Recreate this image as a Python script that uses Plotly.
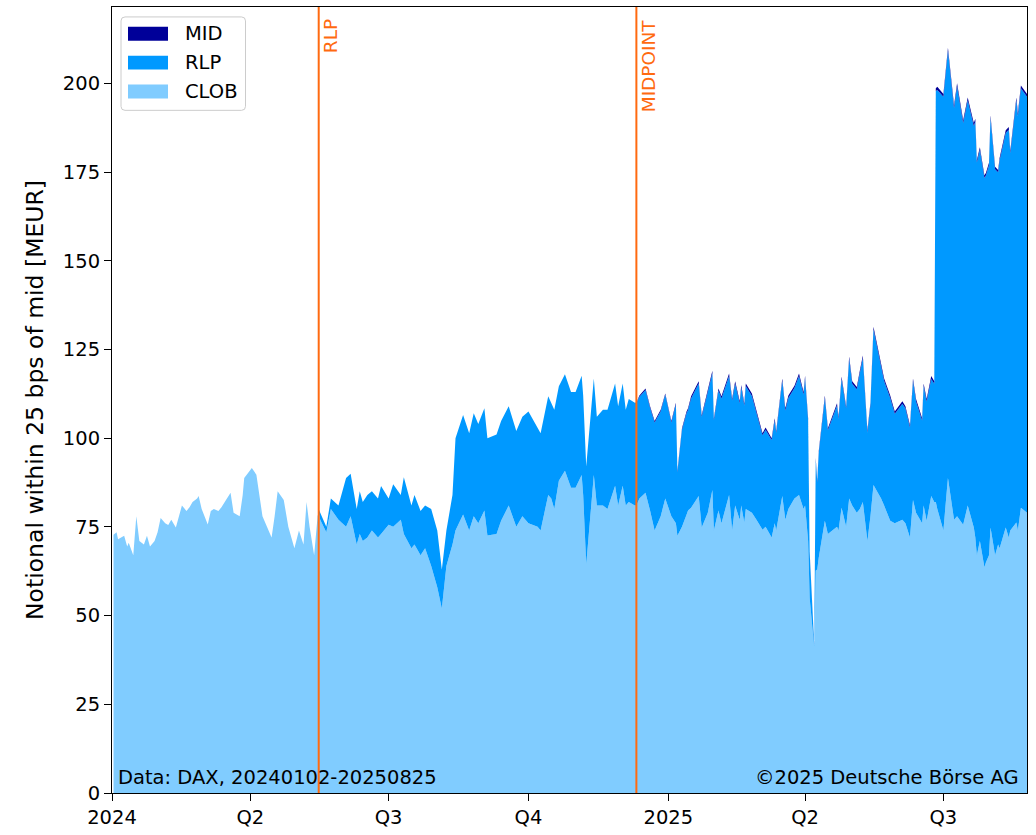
import plotly.graph_objects as go

# Trading days sampled across the period (ISO dates)
dates = [
    "2024-01-02", "2024-01-04", "2024-01-05", "2024-01-09", "2024-01-11", "2024-01-12", "2024-01-15",
    "2024-01-17", "2024-01-19", "2024-01-22", "2024-01-24", "2024-01-26", "2024-01-29", "2024-01-31",
    "2024-02-02", "2024-02-05", "2024-02-07", "2024-02-09", "2024-02-12", "2024-02-14", "2024-02-16",
    "2024-02-19", "2024-02-21", "2024-02-23", "2024-02-26", "2024-02-27", "2024-02-29",
    "2024-03-04", "2024-03-06", "2024-03-08", "2024-03-11", "2024-03-13", "2024-03-15", "2024-03-19",
    "2024-03-21", "2024-03-25", "2024-03-27", "2024-03-28",
    "2024-04-02", "2024-04-05", "2024-04-09", "2024-04-11", "2024-04-15", "2024-04-17", "2024-04-19",
    "2024-04-23", "2024-04-26", "2024-04-30",
    "2024-05-03", "2024-05-06", "2024-05-08", "2024-05-10", "2024-05-13", "2024-05-15",
    "2024-05-16", "2024-05-17", "2024-05-21", "2024-05-24", "2024-05-29",
    "2024-06-03", "2024-06-06", "2024-06-10", "2024-06-12", "2024-06-14", "2024-06-17", "2024-06-20",
    "2024-06-24", "2024-06-26",
    "2024-07-01", "2024-07-04", "2024-07-09", "2024-07-11", "2024-07-16", "2024-07-18", "2024-07-22",
    "2024-07-25", "2024-07-29",
    "2024-08-02", "2024-08-05", "2024-08-08", "2024-08-12", "2024-08-14", "2024-08-19", "2024-08-23",
    "2024-08-26", "2024-08-29",
    "2024-09-02", "2024-09-04", "2024-09-10", "2024-09-13", "2024-09-18", "2024-09-23", "2024-09-27",
    "2024-10-01", "2024-10-07", "2024-10-09", "2024-10-14", "2024-10-16", "2024-10-18", "2024-10-21",
    "2024-10-25", "2024-10-29",
    "2024-11-01", "2024-11-05", "2024-11-06", "2024-11-08", "2024-11-11", "2024-11-13", "2024-11-15",
    "2024-11-19", "2024-11-22", "2024-11-27", "2024-11-29",
    "2024-12-02", "2024-12-04", "2024-12-06", "2024-12-10", "2024-12-11", "2024-12-13", "2024-12-17",
    "2024-12-20", "2024-12-23", "2024-12-27", "2024-12-30",
    "2025-01-03", "2025-01-06", "2025-01-07", "2025-01-10", "2025-01-13", "2025-01-14", "2025-01-16",
    "2025-01-21", "2025-01-23", "2025-01-27", "2025-01-30", "2025-01-31",
    "2025-02-03", "2025-02-05", "2025-02-10", "2025-02-12", "2025-02-14", "2025-02-17", "2025-02-18",
    "2025-02-20", "2025-02-21", "2025-02-25", "2025-02-28",
    "2025-03-04", "2025-03-06", "2025-03-10", "2025-03-12", "2025-03-13", "2025-03-17", "2025-03-19",
    "2025-03-21", "2025-03-25", "2025-03-28", "2025-03-31",
    "2025-04-01", "2025-04-03", "2025-04-04", "2025-04-07", "2025-04-08", "2025-04-09", "2025-04-10",
    "2025-04-14", "2025-04-16", "2025-04-22", "2025-04-23", "2025-04-25", "2025-04-28", "2025-04-30",
    "2025-05-02", "2025-05-05", "2025-05-07", "2025-05-09", "2025-05-12", "2025-05-14", "2025-05-16",
    "2025-05-21", "2025-05-23", "2025-05-27", "2025-05-30",
    "2025-06-04", "2025-06-06", "2025-06-09", "2025-06-11", "2025-06-13", "2025-06-17", "2025-06-18",
    "2025-06-20", "2025-06-23", "2025-06-25", "2025-06-26", "2025-06-27",
    "2025-07-01", "2025-07-03", "2025-07-04", "2025-07-08", "2025-07-10", "2025-07-14", "2025-07-16",
    "2025-07-17", "2025-07-21", "2025-07-22", "2025-07-23", "2025-07-25", "2025-07-28", "2025-07-29",
    "2025-07-31",
    "2025-08-01", "2025-08-04", "2025-08-06", "2025-08-07", "2025-08-11", "2025-08-13", "2025-08-14",
    "2025-08-18", "2025-08-19", "2025-08-21", "2025-08-25",
]

# Notional in the central limit order book [MEUR]
clob = [
    72.8, 73.5, 71.5, 72.5, 69.5, 70.5, 67.0,
    78.0, 71.0, 70.0, 72.5, 69.5, 71.0, 73.5,
    77.5, 76.0, 75.5, 77.0, 74.8, 78.0, 81.0,
    79.5, 80.5, 82.0, 83.0, 83.7, 80.0,
    75.7, 79.5, 80.0, 79.5, 80.5, 82.0, 84.6,
    79.0, 78.0, 84.0, 88.8,
    91.6, 89.7, 78.0, 76.0, 72.0, 78.0, 85.0,
    82.6, 75.0, 69.0,
    74.0, 70.0, 82.0, 75.0, 67.0, 76.7,
    79.0, 77.0, 73.5, 80.0, 77.0,
    75.0, 78.0, 70.0, 73.0, 71.0, 72.0, 74.0,
    72.0, 73.0,
    75.6, 75.0, 77.0, 73.0, 69.0, 70.0, 67.0,
    69.0, 64.0,
    58.0, 52.0, 64.0, 70.0, 74.0, 78.5, 74.0,
    78.0, 76.0,
    79.6, 72.6, 73.0, 76.7, 81.0, 75.0, 78.0,
    76.0, 75.0, 74.0, 84.0, 83.0, 80.0, 88.0,
    90.8, 86.0,
    86.0, 89.6, 84.0, 64.4, 80.0, 89.6, 81.0,
    81.0, 80.0, 86.6, 81.0,
    86.6, 81.0, 82.0, 81.0, 81.0, 83.0, 84.6,
    79.6, 74.0, 78.0, 83.0,
    78.0, 76.0, 72.5, 75.0, 78.4, 79.6, 80.4,
    83.7, 74.8, 79.0, 85.4, 74.0,
    79.6, 76.0, 84.0, 74.0, 81.0, 77.0, 81.0,
    76.2, 80.0, 79.0, 77.0,
    74.2, 75.0, 72.0, 76.0, 74.0, 83.7, 77.0,
    80.0, 83.0, 84.0, 80.0,
    81.0, 71.0, 55.0, 41.0, 62.7, 63.0, 66.4,
    76.7, 73.0, 75.0, 74.0, 80.4, 75.0, 83.0,
    81.0, 79.0, 80.0, 82.0, 71.0, 78.0, 86.8,
    83.0, 81.0, 76.7, 76.0,
    77.0, 76.0, 72.0, 82.6, 79.0, 76.0, 81.0,
    76.7, 83.7, 82.0, 82.0, 80.0,
    74.0, 84.0, 88.8, 77.0, 78.0, 75.6, 79.0,
    81.0, 74.8, 72.0, 67.0, 71.0, 63.6, 65.0,
    67.0,
    74.8, 67.0, 70.0, 69.0, 74.8, 72.0, 74.0,
    76.2, 74.0, 80.4, 79.0,
]

# Notional quoted by retail liquidity providers [MEUR]
rlp = [
    0, 0, 0, 0, 0, 0, 0,
    0, 0, 0, 0, 0, 0, 0,
    0, 0, 0, 0, 0, 0, 0,
    0, 0, 0, 0, 0, 0,
    0, 0, 0, 0, 0, 0, 0,
    0, 0, 0, 0,
    0, 0, 0, 0, 0, 0, 0,
    0, 0, 0,
    0, 0, 0, 0, 0, 0,
    1.0, 2.0, 1.5, 3.0, 4.0,
    13.8, 12.0, 10.0, 12.0, 11.0, 12.0, 11.0,
    11.0, 13.5,
    7.4, 12.0, 7.0, 16.0, 12.0, 14.0, 12.5,
    12.0, 16.0,
    16.0, 11.0, 10.0, 14.0, 26.0, 28.0, 27.4,
    29.0, 28.0,
    28.8, 27.4, 28.0, 28.1, 28.0, 27.0, 28.0,
    31.5, 28.0, 27.4, 27.8, 27.0, 28.0, 26.6,
    27.2, 27.0,
    27.0, 28.0, 28.0, 27.6, 25.6, 27.2, 25.0,
    27.0, 28.0, 28.8, 28.0,
    28.8, 27.0, 29.0, 29.0, 28.8, 28.7, 29.0,
    29.0, 30.4, 29.6, 29.2,
    26.4, 33.5, 17.9, 27.4, 28.6, 28.3, 30.8,
    31.7, 31.2, 33.8, 32.9, 31.1,
    33.8, 35.2, 33.5, 36.6, 34.3, 32.8, 33.3,
    33.0, 34.7, 32.9, 30.2,
    26.6, 27.4, 27.5, 29.0, 27.5, 32.4, 30.8,
    31.3, 31.1, 33.5, 32.3,
    35.9, 34.0, 12.6, 0.8, 31.2, 24.5, 29.5,
    34.6, 29.2, 34.2, 31.4, 36.3, 33.4, 39.3,
    34.3, 34.8, 38.3, 40.6, 30.6, 31.4, 43.8,
    36.7, 35.1, 34.6, 30.9,
    32.7, 32.4, 31.0, 33.5, 31.3, 29.0, 33.7,
    33.6, 33.0, 33.3, 115.8, 118.1,
    122.2, 120.2, 120.4, 116.0, 121.2, 113.2, 114.9,
    114.2, 113.2, 117.2, 110.7, 110.3, 109.7, 109.1,
    109.9,
    115.4, 108.8, 104.9, 109.3, 111.2, 114.9, 106.3,
    119.0, 116.8, 118.2, 117.2,
]

# Notional resting as midpoint orders [MEUR]
mid = [
    0, 0, 0, 0, 0, 0, 0,
    0, 0, 0, 0, 0, 0, 0,
    0, 0, 0, 0, 0, 0, 0,
    0, 0, 0, 0, 0, 0,
    0, 0, 0, 0, 0, 0, 0,
    0, 0, 0, 0,
    0, 0, 0, 0, 0, 0, 0,
    0, 0, 0,
    0, 0, 0, 0, 0, 0,
    0, 0, 0, 0, 0,
    0, 0, 0, 0, 0, 0, 0,
    0, 0,
    0, 0, 0, 0, 0, 0, 0,
    0, 0,
    0, 0, 0, 0, 0, 0, 0,
    0, 0,
    0, 0, 0, 0, 0, 0, 0,
    0, 0, 0, 0, 0, 0, 0,
    0, 0,
    0, 0, 0, 0, 0, 0, 0,
    0, 0, 0, 0,
    0, 0, 0, 0, 0.2, 0.3, 0.4,
    0.4, 0.4, 0.4, 0.4,
    0.4, 0.5, 0.4, 0.4, 0.5, 0.5, 0.6,
    0.6, 0.5, 0.6, 0.7, 0.5,
    0.6, 0.6, 0.7, 0.6, 0.7, 0.6, 0.7,
    0.6, 0.7, 0.7, 0.6,
    0.6, 0.6, 0.5, 0.6, 0.5, 0.7, 0.6,
    0.7, 0.7, 0.7, 0.7,
    0.7, 0.6, 0.4, 0.2, 0.5, 0.5, 0.5,
    0.7, 0.6, 0.6, 0.6, 0.7, 0.6, 0.7,
    0.7, 0.6, 0.7, 0.7, 0.6, 0.6, 0.8,
    0.7, 0.7, 0.7, 0.6,
    0.7, 0.6, 0.6, 0.7, 0.7, 0.6, 0.7,
    0.7, 0.8, 0.7, 0.8, 0.9,
    0.8, 0.8, 0.8, 0.8, 0.8, 0.8, 0.8,
    0.8, 0.8, 0.8, 0.7, 0.7, 0.7, 0.7,
    0.7,
    0.8, 0.7, 0.7, 0.7, 0.8, 0.8, 0.7,
    0.8, 0.8, 0.8, 0.8,
]

series_names = ["CLOB", "RLP", "MID"]
series_colors = ["#80ccff", "#0099ff", "#000099"]

event_dates = ["2024-05-16", "2024-12-11"]
event_labels = ["RLP", "MIDPOINT"]
event_color = "#ff6a10"

xtick_vals = ["2024-01-01", "2024-04-01", "2024-07-01", "2024-10-01",
              "2025-01-01", "2025-04-01", "2025-07-01"]
xtick_text = ["2024", "Q2", "Q3", "Q4", "2025", "Q2", "Q3"]
ytick_vals = [0, 25, 50, 75, 100, 125, 150, 175, 200]

FONT = "DejaVu Sans"
W, H = 1036, 835
ML, MR, MT, MB = 112, 9, 6, 38
PW, PH = W - ML - MR, H - MT - MB


def px_x(px):
    return (px - ML) / PW


def px_y(py):
    return (H - MB - py) / PH


fig = go.Figure()
for name, values, color in zip(series_names, [clob, rlp, mid], series_colors):
    fig.add_trace(go.Scatter(
        x=dates, y=values, name=name, mode="lines", stackgroup="notional",
        line=dict(width=0, color=color), fillcolor=color, showlegend=False,
    ))

shapes = []
annotations = []

# vertical markers for feature launches
for d, label in zip(event_dates, event_labels):
    shapes.append(dict(type="line", xref="x", yref="paper", x0=d, x1=d, y0=0, y1=1,
                       line=dict(color=event_color, width=2), layer="above"))
    annotations.append(dict(x=d, y=px_y(16), xref="x", yref="paper", text=label,
                            textangle=-90, showarrow=False, xanchor="left", yanchor="top",
                            xshift=0, font=dict(family=FONT, size=18.5, color=event_color)))

# legend frame with rounded corners
x0, x1 = px_x(121), px_x(245.5)
y0, y1 = px_y(110), px_y(16)
rx, ry = 4 / PW, 4 / PH
frame = (f"M {x0+rx},{y0} L {x1-rx},{y0} Q {x1},{y0} {x1},{y0+ry} "
         f"L {x1},{y1-ry} Q {x1},{y1} {x1-rx},{y1} L {x0+rx},{y1} Q {x0},{y1} {x0},{y1-ry} "
         f"L {x0},{y0+ry} Q {x0},{y0} {x0+rx},{y0} Z")
shapes.append(dict(type="path", xref="paper", yref="paper", path=frame,
                   fillcolor="rgba(255,255,255,0.8)", line=dict(color="#cccccc", width=1),
                   layer="above"))

legend_rows = [("MID", "#000099", 33), ("RLP", "#0099ff", 62), ("CLOB", "#80ccff", 91)]
for label, color, cy in legend_rows:
    shapes.append(dict(type="rect", xref="paper", yref="paper",
                       x0=px_x(128), x1=px_x(168), y0=px_y(cy + 7), y1=px_y(cy - 7),
                       fillcolor=color, line=dict(width=0), layer="above"))
    annotations.append(dict(x=px_x(183), y=px_y(cy), xref="paper", yref="paper", text=label,
                            showarrow=False, xanchor="left", yanchor="middle",
                            font=dict(family=FONT, size=19.5, color="black")))

annotations.append(dict(x=px_x(116), y=px_y(781), xref="paper", yref="paper",
                        text="Data: DAX, 20240102-20250825", showarrow=False,
                        xanchor="left", yanchor="middle",
                        font=dict(family=FONT, size=19.5, color="black")))
annotations.append(dict(x=px_x(1021), y=px_y(781), xref="paper", yref="paper",
                        text="©2025 Deutsche Börse AG", showarrow=False,
                        xanchor="right", yanchor="middle",
                        font=dict(family=FONT, size=19.5, color="black")))

fig.update_layout(
    width=W, height=H,
    margin=dict(l=ML, r=MR, t=MT, b=MB),
    paper_bgcolor="white", plot_bgcolor="white",
    font=dict(family=FONT, size=19.5, color="black"),
    shapes=shapes, annotations=annotations,
    showlegend=False,
    xaxis=dict(
        type="date", range=["2024-01-01", "2025-08-25"],
        tickvals=xtick_vals, ticktext=xtick_text,
        ticks="outside", ticklen=7, tickwidth=1, tickcolor="black",
        showline=True, linecolor="black", linewidth=1, mirror=True,
        showgrid=False, zeroline=False,
        tickfont=dict(family=FONT, size=19.5, color="black"),
    ),
    yaxis=dict(
        range=[0, 221.5], tickvals=ytick_vals,
        ticks="outside", ticklen=7, tickwidth=1, tickcolor="black",
        showline=True, linecolor="black", linewidth=1, mirror=True,
        showgrid=False, zeroline=False,
        tickfont=dict(family=FONT, size=19.5, color="black"),
        title=dict(text="Notional within 25 bps of mid [MEUR]",
                   font=dict(family=FONT, size=23.5, color="black"), standoff=12),
    ),
)

fig.write_html("out.html")
